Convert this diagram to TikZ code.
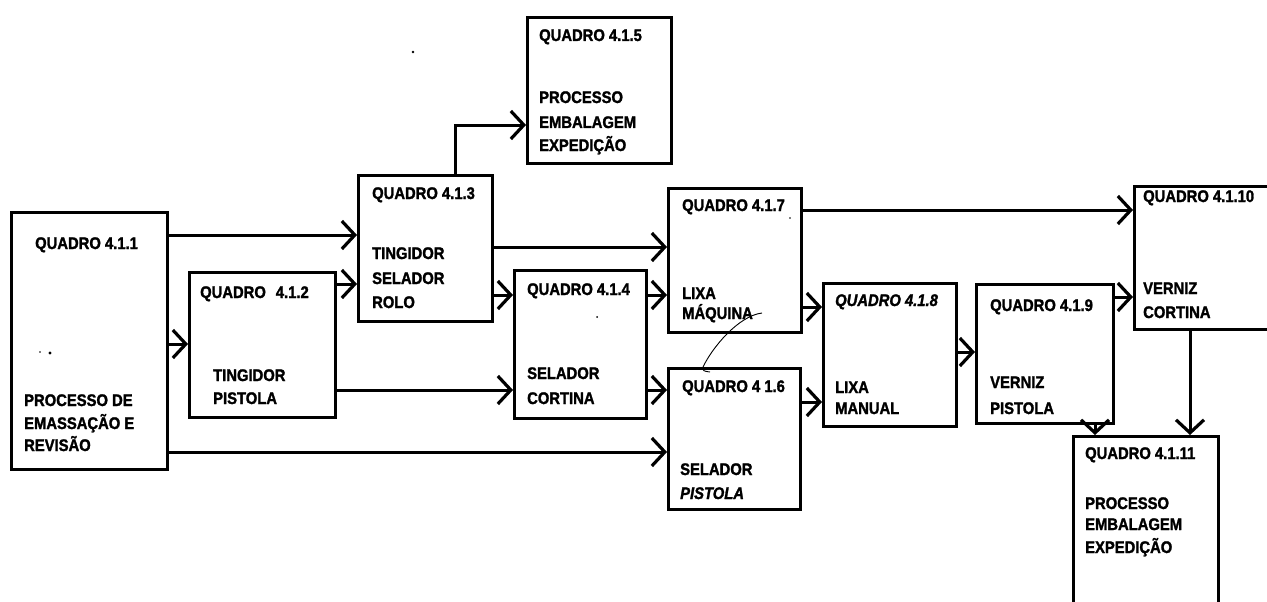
\documentclass[tikz,border=0pt]{standalone}
\usepackage{fontspec}
\setmainfont{Liberation Sans}
\newfontfamily\boxfont{Liberation Sans Bold}[FakeStretch=0.88,FakeBold=1.6]
\newfontfamily\boxfontit{Liberation Sans Bold Italic}[FakeStretch=0.88,FakeBold=1.6]
\usetikzlibrary{arrows.meta}
\begin{document}
\begin{tikzpicture}[x=1pt,y=-1pt,
  box/.style={draw,line width=3pt,inner sep=0pt,anchor=north west},
  lbl/.style={anchor=base west,inner sep=0pt,font=\boxfont\fontsize{16.8}{20}\selectfont},
  ilbl/.style={anchor=base west,inner sep=0pt,font=\boxfontit\fontsize{16.8}{20}\selectfont},
  conn/.style={line width=3pt,-{Straight Barb[length=13pt,width=28pt,line width=3.2pt]}},
  stroke/.style={line width=0.9pt},
]
\clip (0,0) rectangle (1267,602);
% boxes
\node[box,minimum width=156pt,minimum height=257pt] (q1) at (10,211) {};
\node[box,minimum width=146pt,minimum height=145pt] (q2) at (188,271) {};
\node[box,minimum width=134pt,minimum height=146pt] (q3) at (357,174) {};
\node[box,minimum width=144pt,minimum height=146pt] (q5) at (526,16) {};
\node[box,minimum width=132pt,minimum height=148pt] (q4) at (513,269) {};
\node[box,minimum width=133pt,minimum height=144pt] (q7) at (667,187) {};
\node[box,minimum width=132pt,minimum height=141pt] (q6) at (667,367) {};
\node[box,minimum width=133pt,minimum height=143pt] (q8) at (822,282) {};
\node[box,minimum width=137pt,minimum height=139pt] (q9) at (975,283) {};
\node[box,minimum width=200pt,minimum height=143pt] (q10) at (1133,185) {};
\node[box,minimum width=145pt,minimum height=200pt] (q11) at (1072,435) {};
% labels
\node[lbl] (t1) at (35,249) {QUADRO 4.1.1};
\node[lbl] (t1a) at (24,406) {PROCESSO DE};
\node[lbl] (t1b) at (24,429) {EMASSAÇÃO E};
\node[lbl] (t1c) at (24,451) {REVISÃO};
\node[lbl] (t2) at (200,298) {QUADRO\hspace{10pt}4.1.2};
\node[lbl] (t2a) at (213,381) {TINGIDOR};
\node[lbl] (t2b) at (213,404) {PISTOLA};
\node[lbl] (t3) at (372,199) {QUADRO 4.1.3};
\node[lbl] (t3a) at (372,259) {TINGIDOR};
\node[lbl] (t3b) at (372,284) {SELADOR};
\node[lbl] (t3c) at (372,308) {ROLO};
\node[lbl] (t5) at (539,41) {QUADRO 4.1.5};
\node[lbl] (t5a) at (539,103) {PROCESSO};
\node[lbl] (t5b) at (539,128) {EMBALAGEM};
\node[lbl] (t5c) at (539,151) {EXPEDIÇÃO};
\node[lbl] (t4) at (527,295) {QUADRO 4.1.4};
\node[lbl] (t4a) at (527,379) {SELADOR};
\node[lbl] (t4b) at (527,404) {CORTINA};
\node[lbl] (t7) at (682,211) {QUADRO 4.1.7};
\node[lbl] (t7a) at (682,299) {LIXA};
\node[lbl] (t7b) at (682,319) {MÁQUINA};
\node[lbl] (t6) at (682,392) {QUADRO 4 1.6};
\node[lbl] (t6a) at (680,475) {SELADOR};
\node[ilbl] (t6b) at (680,499) {PISTOLA};
\node[ilbl] (t8) at (835,306) {QUADRO 4.1.8};
\node[lbl] (t8a) at (835,393) {LIXA};
\node[lbl] (t8b) at (835,414) {MANUAL};
\node[lbl] (t9) at (990,311) {QUADRO 4.1.9};
\node[lbl] (t9a) at (990,388) {VERNIZ};
\node[lbl] (t9b) at (990,414) {PISTOLA};
\node[lbl] (t10) at (1143,202) {QUADRO 4.1.10};
\node[lbl] (t10a) at (1143,294) {VERNIZ};
\node[lbl] (t10b) at (1143,318) {CORTINA};
\node[lbl] (t11) at (1085,459) {QUADRO 4.1.11};
\node[lbl] (t11a) at (1085,509) {PROCESSO};
\node[lbl] (t11b) at (1085,530) {EMBALAGEM};
\node[lbl] (t11c) at (1085,553) {EXPEDIÇÃO};
% connectors
\draw[conn] (q1.east |- 0,235) -- (q3.west |- 0,235);
\draw[conn] (q1.east |- 0,344) -- (q2.west |- 0,344);
\draw[conn] (q1.east |- 0,452) -- (q6.west |- 0,452);
\draw[conn] (q2.east |- 0,284) -- (q3.west |- 0,284);
\draw[conn] (q2.east |- 0,390) -- (q4.west |- 0,390);
\draw[conn] (455,0 |- q3.north) |- (q5.west |- 0,125);
\draw[conn] (q3.east |- 0,247) -- (q7.west |- 0,247);
\draw[conn] (q3.east |- 0,295) -- (q4.west |- 0,295);
\draw[conn] (q4.east |- 0,295) -- (q7.west |- 0,295);
\draw[conn] (q4.east |- 0,390) -- (q6.west |- 0,390);
\draw[conn] (q7.east |- 0,210) -- (q10.west |- 0,210);
\draw[conn] (q7.east |- 0,307) -- (q8.west |- 0,307);
\draw[conn] (q6.east |- 0,402) -- (q8.west |- 0,402);
\draw[conn] (q8.east |- 0,352) -- (q9.west |- 0,352);
\draw[conn] (q9.east |- 0,297) -- (q10.west |- 0,297);
\draw[conn] (1095,0 |- q9.south) -- (1095,0 |- q11.north);
\draw[conn] (1190,0 |- q10.south) -- (1190,0 |- q11.north);
% hand-drawn stroke and specks
\draw[stroke] (762,313) .. controls (738,316) and (712,348) .. (703,367) .. controls (703,371) .. (710,372);
\fill (413,52) circle (1.3);
\fill (597,317) circle (1);
\fill (790,218) circle (0.8);
\fill (40,352) circle (0.8);
\fill (50,353) circle (1.6);
\end{tikzpicture}
\end{document}
